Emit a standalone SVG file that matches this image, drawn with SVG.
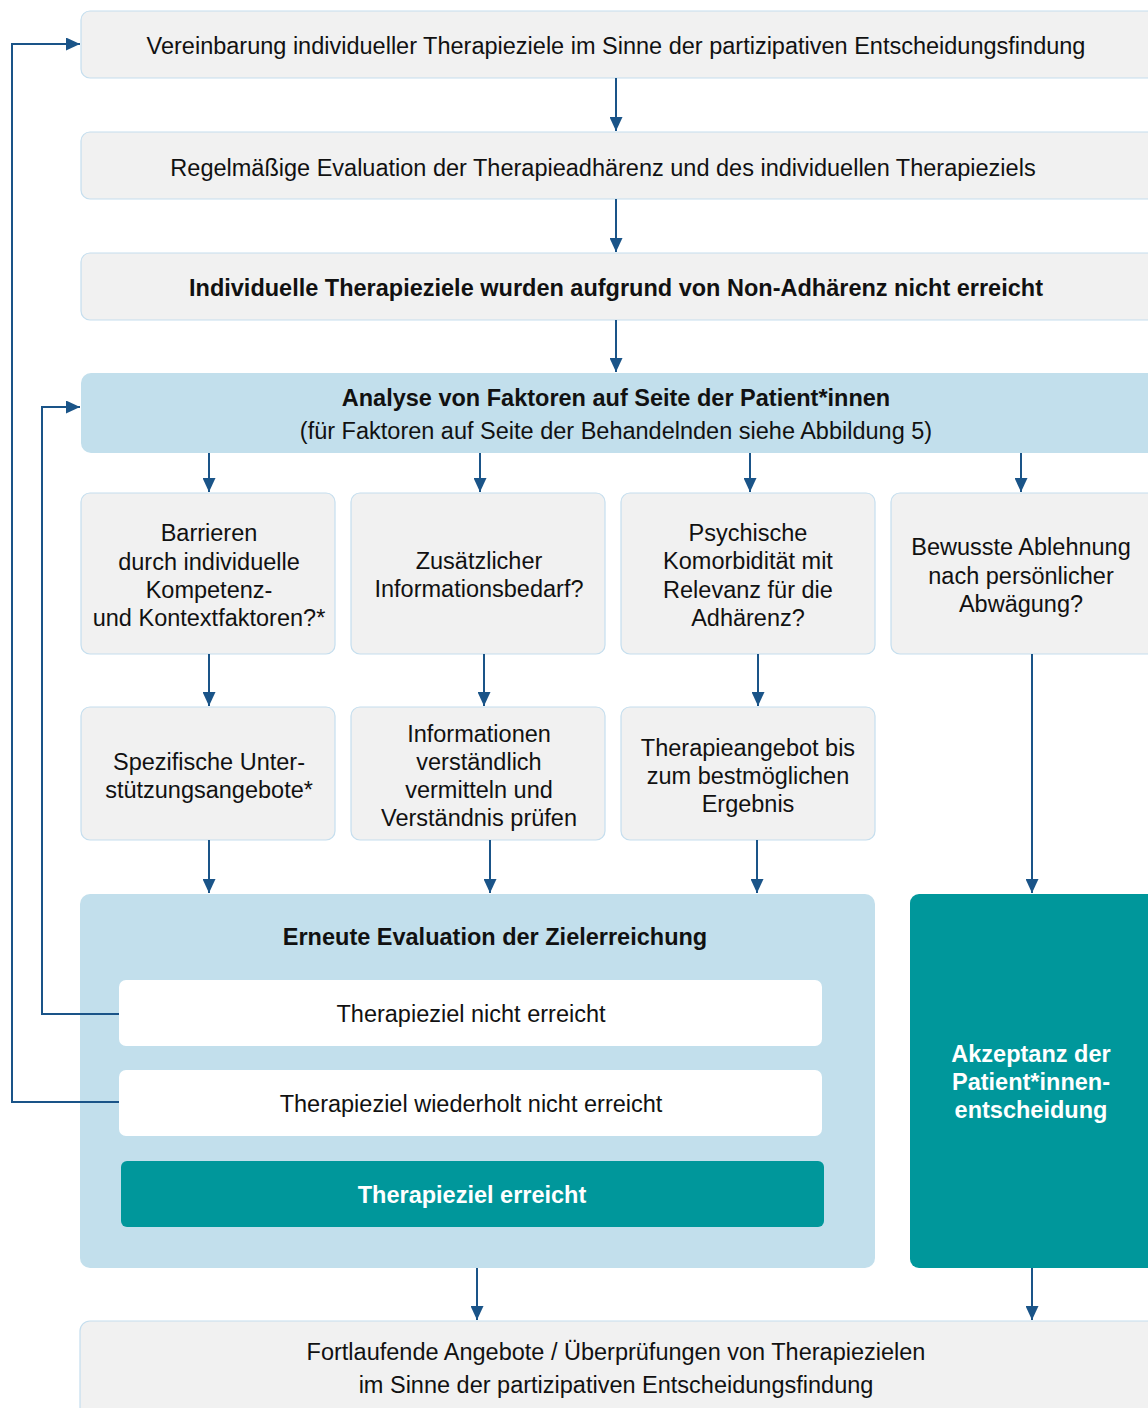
<svg xmlns="http://www.w3.org/2000/svg" width="1148" height="1408" viewBox="0 0 1148 1408">
<defs>
<marker id="ah" viewBox="0 0 14 13" refX="14" refY="6.5" markerWidth="14" markerHeight="13" markerUnits="userSpaceOnUse" orient="auto"><path d="M0,0 L14,6.5 L0,13 Z" fill="#1a5488"/></marker>
<style>
.g{fill:#f1f1f1;stroke:#c5deee;stroke-width:1.2}
.b{fill:#c2dfec}
.w{fill:#ffffff}
.t{fill:#00979b}
.c{fill:none;stroke:#1a5488;stroke-width:2;marker-end:url(#ah)}
text{font-family:"Liberation Sans",Arial,sans-serif;font-size:23.5px;fill:#111;text-anchor:middle}
.bd{font-weight:bold}
.wt{fill:#ffffff;font-weight:bold}
</style>
</defs>
<g id="n1"><rect class="g" x="81" y="11" width="1080" height="67" rx="9"/><text x="616" y="54">Vereinbarung individueller Therapieziele im Sinne der partizipativen Entscheidungsfindung</text></g>
<g id="n2"><rect class="g" x="81" y="132" width="1080" height="67" rx="9"/><text x="603" y="176">Regelmäßige Evaluation der Therapieadhärenz und des individuellen Therapieziels</text></g>
<g id="n3"><rect class="g" x="81" y="253" width="1080" height="67" rx="9"/><text class="bd" x="616" y="296">Individuelle Therapieziele wurden aufgrund von Non-Adhärenz nicht erreicht</text></g>
<g id="n4"><rect class="b" x="81" y="373" width="1080" height="80" rx="10"/><text class="bd" x="616" y="406">Analyse von Faktoren auf Seite der Patient*innen</text><text x="616" y="439">(für Faktoren auf Seite der Behandelnden siehe Abbildung 5)</text></g>
<g id="q1"><rect class="g" x="81" y="493" width="254" height="161" rx="9"/><text x="209" y="541">Barrieren</text><text x="209" y="570">durch individuelle</text><text x="209" y="598">Kompetenz-</text><text x="209" y="626">und Kontextfaktoren?*</text></g>
<g id="q2"><rect class="g" x="351" y="493" width="254" height="161" rx="9"/><text x="479" y="569">Zusätzlicher</text><text x="479" y="597">Informationsbedarf?</text></g>
<g id="q3"><rect class="g" x="621" y="493" width="254" height="161" rx="9"/><text x="748" y="541">Psychische</text><text x="748" y="569">Komorbidität mit</text><text x="748" y="598">Relevanz für die</text><text x="748" y="626">Adhärenz?</text></g>
<g id="q4"><rect class="g" x="891" y="493" width="270" height="161" rx="9"/><text x="1021" y="555">Bewusste Ablehnung</text><text x="1021" y="584">nach persönlicher</text><text x="1021" y="612">Abwägung?</text></g>
<g id="a1"><rect class="g" x="81" y="707" width="254" height="133" rx="9"/><text x="209" y="770">Spezifische Unter-</text><text x="209" y="798">stützungsangebote*</text></g>
<g id="a2"><rect class="g" x="351" y="707" width="254" height="133" rx="9"/><text x="479" y="742">Informationen</text><text x="479" y="770">verständlich</text><text x="479" y="798">vermitteln und</text><text x="479" y="826">Verständnis prüfen</text></g>
<g id="a3"><rect class="g" x="621" y="707" width="254" height="133" rx="9"/><text x="748" y="756">Therapieangebot bis</text><text x="748" y="784">zum bestmöglichen</text><text x="748" y="812">Ergebnis</text></g>
<g id="eval"><rect class="b" x="80" y="894" width="795" height="374" rx="10"/><text class="bd" x="495" y="945">Erneute Evaluation der Zielerreichung</text></g>
<g id="e1"><rect class="w" x="119" y="980" width="703" height="66" rx="7"/><text x="471" y="1022">Therapieziel nicht erreicht</text></g>
<g id="e2"><rect class="w" x="119" y="1070" width="703" height="66" rx="7"/><text x="471" y="1112">Therapieziel wiederholt nicht erreicht</text></g>
<g id="e3"><rect class="t" x="121" y="1161" width="703" height="66" rx="6"/><text class="wt" x="472" y="1203">Therapieziel erreicht</text></g>
<g id="akz"><rect class="t" x="910" y="894" width="250" height="374" rx="9"/><text class="wt" x="1031" y="1062">Akzeptanz der</text><text class="wt" x="1031" y="1090">Patient*innen-</text><text class="wt" x="1031" y="1118">entscheidung</text></g>
<g id="end"><rect class="g" x="80" y="1321" width="1080" height="100" rx="10"/><text x="616" y="1360">Fortlaufende Angebote / Überprüfungen von Therapiezielen</text><text x="616" y="1393">im Sinne der partizipativen Entscheidungsfindung</text></g>
<g id="connectors">
<path class="c" d="M616,78 V131"/>
<path class="c" d="M616,199 V252"/>
<path class="c" d="M616,320 V372"/>
<path class="c" d="M209,453 V492"/>
<path class="c" d="M480,453 V492"/>
<path class="c" d="M750,453 V492"/>
<path class="c" d="M1021,453 V492"/>
<path class="c" d="M209,654 V706"/>
<path class="c" d="M484,654 V706"/>
<path class="c" d="M758,654 V706"/>
<path class="c" d="M1032,654 V893"/>
<path class="c" d="M209,840 V893"/>
<path class="c" d="M490,840 V893"/>
<path class="c" d="M757,840 V893"/>
<path class="c" d="M477,1268 V1320"/>
<path class="c" d="M1032,1268 V1320"/>
<path class="c" d="M119,1014 H42 V407 H80"/>
<path class="c" d="M119,1102 H12 V44 H80"/>
</g>
</svg>
